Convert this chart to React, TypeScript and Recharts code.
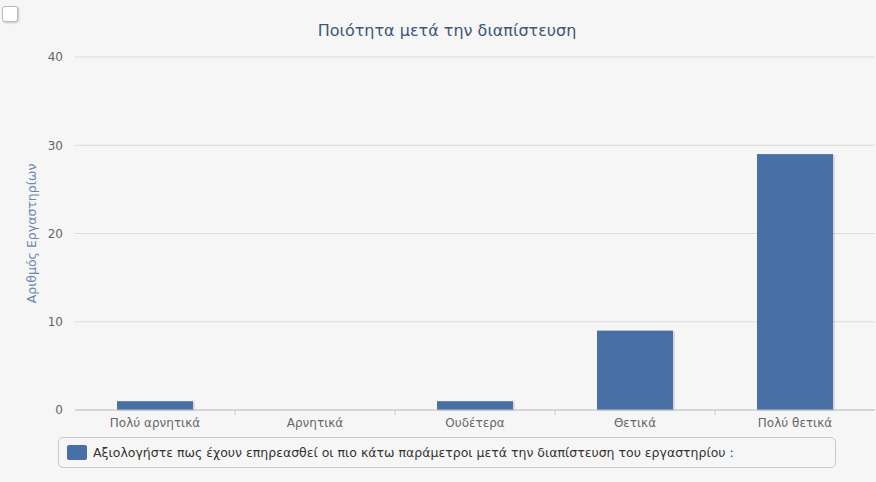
import { BarChart, Bar, XAxis, YAxis, CartesianGrid, Legend } from "recharts";

const categories = ["Πολύ αρνητικά", "Αρνητικά", "Ουδέτερα", "Θετικά", "Πολύ θετικά"];
const counts = [1, 0, 1, 9, 29];
const yTicks = [0, 10, 20, 30, 40];
const seriesName =
  "Αξιολογήστε πως έχουν επηρεασθεί οι πιο κάτω παράμετροι μετά την διαπίστευση του εργαστηρίου :";

const data = categories.map((c, i) => ({ name: c, count: counts[i] }));

const FONT = "'DejaVu Sans', sans-serif";
const BAR = "#4870a6";
const W = 876;
const H = 482;
const LEFT = 75;
const RIGHT = 1;
const band = (W - LEFT - RIGHT) / categories.length;

function ShadowBar(props: any) {
  const { x, y, width, height } = props;
  if (!height || height <= 0) return null;
  return (
    <g>
      <rect x={x + 1} y={y + 1} width={width + 1} height={height} fill="rgba(0,0,0,0.12)" />
      <rect x={x} y={y} width={width} height={height} fill={BAR} />
    </g>
  );
}

function CatTick(props: any) {
  const { x, y, payload, index } = props;
  return (
    <g>
      {index < categories.length - 1 && (
        <line x1={x + band / 2} x2={x + band / 2} y1={y - 8} y2={y - 3} stroke="#ccc" />
      )}
      <text x={x} y={y + 9} textAnchor="middle" fill="#666" fontSize={12} fontFamily={FONT}>
        {payload.value}
      </text>
    </g>
  );
}

function LegendBox() {
  return (
    <div
      style={{
        display: "flex",
        alignItems: "center",
        boxSizing: "border-box",
        width: 778,
        height: 31,
        border: "1px solid #c8c8c8",
        borderRadius: 5,
        background: "#f6f6f6",
        paddingLeft: 8,
        fontFamily: FONT,
        fontSize: 12.5,
        color: "#333",
      }}
    >
      <span style={{ width: 20, height: 15, background: BAR, borderRadius: 2, marginRight: 6 }} />
      {seriesName}
    </div>
  );
}

export default function App() {
  return (
    <div style={{ position: "absolute", left: 0, top: 0, width: W, height: H, background: "#f6f6f6" }}>
      <div
        style={{
          position: "absolute",
          left: 2,
          top: 6,
          width: 14,
          height: 14,
          border: "1px solid #bbb",
          borderRadius: 3,
          background: "#fff",
          boxShadow: "1px 1px 2px rgba(0,0,0,0.2)",
        }}
      />
      <div
        style={{
          position: "absolute",
          left: 0,
          top: 21,
          width: 894,
          textAlign: "center",
          fontFamily: FONT,
          fontSize: 16,
          color: "#3e5778",
        }}
      >
        Ποιότητα μετά την διαπίστευση
      </div>
      <BarChart
        width={W}
        height={H}
        data={data}
        margin={{ top: 57, right: RIGHT, left: 0, bottom: 16 }}
        barCategoryGap={0}
      >
        <CartesianGrid horizontal vertical={false} stroke="#dcdcdc" />
        <XAxis
          dataKey="name"
          height={25}
          tickLine={false}
          axisLine={{ stroke: "#c4c4c4" }}
          interval={0}
          tick={<CatTick />}
        />
        <YAxis
          width={LEFT}
          domain={[0, 40]}
          ticks={yTicks}
          tickLine={false}
          axisLine={false}
          tick={{ fill: "#666", fontSize: 12, fontFamily: FONT }}
          tickMargin={6}
          label={{
            value: "Αριθμός Εργαστηρίων",
            angle: -90,
            position: "insideLeft",
            offset: 32,
            style: { fill: "#6b88b3", fontSize: 12.5, fontFamily: FONT, textAnchor: "middle" },
          }}
        />
        <Legend
          verticalAlign="bottom"
          content={<LegendBox />}
          wrapperStyle={{ left: 58, bottom: 14, width: 778 }}
        />
        <Bar dataKey="count" name={seriesName} barSize={76} shape={<ShadowBar />} isAnimationActive={false} />
      </BarChart>
    </div>
  );
}
